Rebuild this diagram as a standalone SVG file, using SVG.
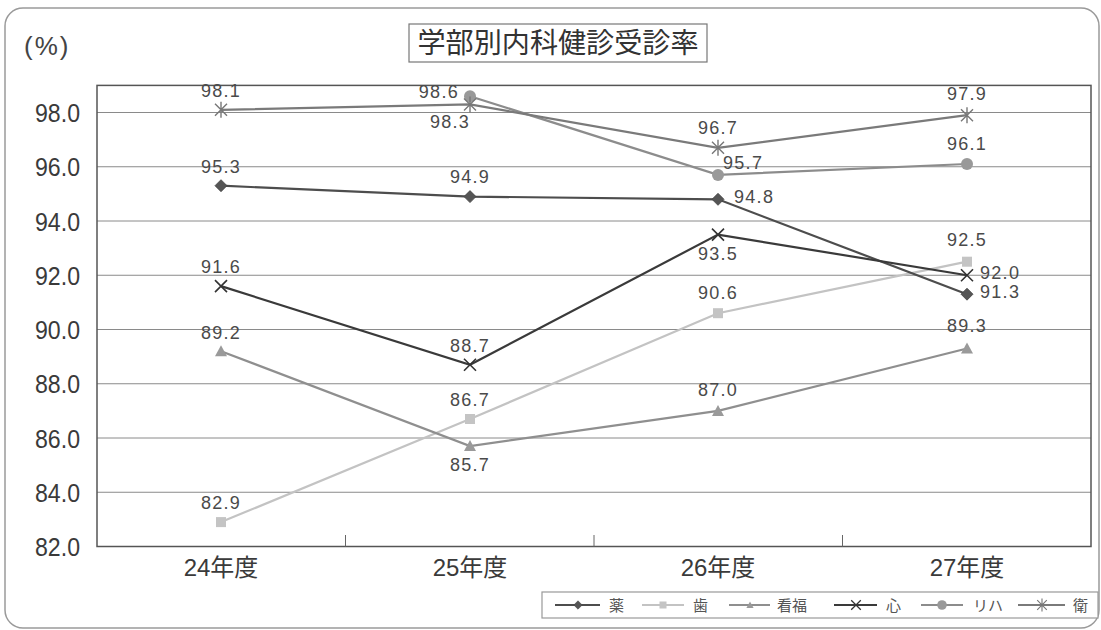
<svg xmlns="http://www.w3.org/2000/svg" xmlns:xlink="http://www.w3.org/1999/xlink" width="1101" height="630" viewBox="0 0 1101 630">
<style>
.frame{fill:#fff;stroke:#9a9a9a;stroke-width:1.5}
.grid{stroke:#8a8a8a;stroke-width:1;fill:none}
.axis{fill:none;stroke:#555;stroke-width:1.5}
.tick{stroke:#666;stroke-width:1}
.ylab{font-family:"Liberation Sans",Arial,sans-serif;font-size:26px;fill:#3a3a3a;text-anchor:end}
.xlab{font-family:"Liberation Sans","Noto Sans CJK JP",sans-serif;font-size:24px;fill:#3a3a3a;text-anchor:middle}
.dl{font-family:"Liberation Sans",Arial,sans-serif;font-size:18px;fill:#4a4a4a;letter-spacing:1.3px;text-anchor:middle}
.st{text-anchor:start}
.en{text-anchor:end}
.title{font-family:"Noto Sans CJK JP",sans-serif;font-size:28px;fill:#333;text-anchor:middle}
.unit{font-family:"Liberation Sans",Arial,sans-serif;font-size:26px;fill:#444;letter-spacing:2px}
.leg{font-family:"Noto Sans CJK JP",sans-serif;font-size:15px;fill:#555}
.s-yaku{stroke:#4d4d4d;stroke-width:2.2;fill:none}
.s-shi{stroke:#c3c3c3;stroke-width:2.2;fill:none}
.s-kan{stroke:#8f8f8f;stroke-width:2.2;fill:none}
.s-shin{stroke:#3a3a3a;stroke-width:2.2;fill:none}
.s-riha{stroke:#8c8c8c;stroke-width:2.2;fill:none}
.s-ei{stroke:#7a7a7a;stroke-width:2.2;fill:none}
</style>
<defs>
<path id="m-diamond" d="M0,-6 L6,0 L0,6 L-6,0Z" fill="#555" stroke="#444" stroke-width="0.8"/>
<rect id="m-square" x="-5" y="-5" width="10" height="10" fill="#c4c4c4"/>
<path id="m-tri" d="M0,-6 L6,5 L-6,5Z" fill="#9a9a9a"/>
<path id="m-x" d="M-6,-6 L6,6 M-6,6 L6,-6" stroke="#333" stroke-width="1.6" fill="none"/>
<circle id="m-circle" r="6" fill="#999"/>
<path id="m-star" d="M-6,-6 L6,6 M-6,6 L6,-6 M0,-8 L0,8" stroke="#777" stroke-width="1.4" fill="none"/>
</defs>

<rect class="frame" x="5" y="8" width="1094" height="620" rx="18"/>

<g id="title">
<rect x="409" y="24" width="298" height="38" fill="#fff" stroke="#777" stroke-width="1.2"/>
<text class="title" x="558" y="53" textLength="281" lengthAdjust="spacingAndGlyphs">学部別内科健診受診率</text>
</g>
<text class="unit" x="24" y="55">(%)</text>

<g id="grid">
<line class="grid" x1="97" y1="112.5" x2="1091" y2="112.5"/>
<line class="grid" x1="97" y1="166.75" x2="1091" y2="166.75"/>
<line class="grid" x1="97" y1="221" x2="1091" y2="221"/>
<line class="grid" x1="97" y1="275.25" x2="1091" y2="275.25"/>
<line class="grid" x1="97" y1="329.5" x2="1091" y2="329.5"/>
<line class="grid" x1="97" y1="383.75" x2="1091" y2="383.75"/>
<line class="grid" x1="97" y1="438" x2="1091" y2="438"/>
<line class="grid" x1="97" y1="492.25" x2="1091" y2="492.25"/>
<rect class="axis" x="97" y="85.4" width="994" height="461.1"/>
<line class="tick" x1="345.5" y1="546.5" x2="345.5" y2="535"/>
<line class="tick" x1="594" y1="546.5" x2="594" y2="535"/>
<line class="tick" x1="842.5" y1="546.5" x2="842.5" y2="535"/>
</g>

<g id="y-labels">
<text class="ylab" x="80" y="122" textLength="45" lengthAdjust="spacingAndGlyphs">98.0</text>
<text class="ylab" x="80" y="176.25" textLength="45" lengthAdjust="spacingAndGlyphs">96.0</text>
<text class="ylab" x="80" y="230.5" textLength="45" lengthAdjust="spacingAndGlyphs">94.0</text>
<text class="ylab" x="80" y="284.75" textLength="45" lengthAdjust="spacingAndGlyphs">92.0</text>
<text class="ylab" x="80" y="339" textLength="45" lengthAdjust="spacingAndGlyphs">90.0</text>
<text class="ylab" x="80" y="393.25" textLength="45" lengthAdjust="spacingAndGlyphs">88.0</text>
<text class="ylab" x="80" y="447.5" textLength="45" lengthAdjust="spacingAndGlyphs">86.0</text>
<text class="ylab" x="80" y="501.75" textLength="45" lengthAdjust="spacingAndGlyphs">84.0</text>
<text class="ylab" x="80" y="556" textLength="45" lengthAdjust="spacingAndGlyphs">82.0</text>
</g>

<g id="x-labels">
<text class="xlab" x="221" y="576">24年度</text>
<text class="xlab" x="470" y="576">25年度</text>
<text class="xlab" x="718" y="576">26年度</text>
<text class="xlab" x="967" y="576">27年度</text>
</g>

<g id="series-shi">
<polyline class="s-shi" points="221,522.1 470,419 718,313.2 967,261.7"/>
<use xlink:href="#m-square" x="221" y="522.1"/><use xlink:href="#m-square" x="470" y="419"/><use xlink:href="#m-square" x="718" y="313.2"/><use xlink:href="#m-square" x="967" y="261.7"/>
</g>
<g id="series-kan">
<polyline class="s-kan" points="221,351.2 470,446.1 718,410.9 967,348.5"/>
<use xlink:href="#m-tri" x="221" y="351.2"/><use xlink:href="#m-tri" x="470" y="446.1"/><use xlink:href="#m-tri" x="718" y="410.9"/><use xlink:href="#m-tri" x="967" y="348.5"/>
</g>
<g id="series-riha">
<polyline class="s-riha" points="470,96.2 718,174.9 967,164"/>
<use xlink:href="#m-circle" x="470" y="96.2"/><use xlink:href="#m-circle" x="718" y="174.9"/><use xlink:href="#m-circle" x="967" y="164"/>
</g>
<g id="series-ei">
<polyline class="s-ei" points="221,109.8 470,104.4 718,147.8 967,115.2"/>
<use xlink:href="#m-star" x="221" y="109.8"/><use xlink:href="#m-star" x="470" y="104.4"/><use xlink:href="#m-star" x="718" y="147.8"/><use xlink:href="#m-star" x="967" y="115.2"/>
</g>
<g id="series-yaku">
<polyline class="s-yaku" points="221,185.7 470,196.6 718,199.3 967,294.2"/>
<use xlink:href="#m-diamond" x="221" y="185.7"/><use xlink:href="#m-diamond" x="470" y="196.6"/><use xlink:href="#m-diamond" x="718" y="199.3"/><use xlink:href="#m-diamond" x="967" y="294.2"/>
</g>
<g id="series-shin">
<polyline class="s-shin" points="221,286.1 470,364.8 718,234.6 967,275.25"/>
<use xlink:href="#m-x" x="221" y="286.1"/><use xlink:href="#m-x" x="470" y="364.8"/><use xlink:href="#m-x" x="718" y="234.6"/><use xlink:href="#m-x" x="967" y="275.25"/>
</g>

<g id="data-labels">
<text class="dl" x="221" y="97">98.1</text>
<text class="dl" x="450" y="128">98.3</text>
<text class="dl" x="718" y="134">96.7</text>
<text class="dl" x="967" y="100">97.9</text>
<text class="dl en" x="459" y="98">98.6</text>
<text class="dl st" x="723" y="169">95.7</text>
<text class="dl" x="967" y="150">96.1</text>
<text class="dl" x="221" y="173">95.3</text>
<text class="dl" x="470" y="183">94.9</text>
<text class="dl st" x="734" y="203">94.8</text>
<text class="dl st" x="980" y="298">91.3</text>
<text class="dl" x="221" y="273">91.6</text>
<text class="dl" x="470" y="352">88.7</text>
<text class="dl" x="718" y="260">93.5</text>
<text class="dl st" x="980" y="279">92.0</text>
<text class="dl" x="221" y="509">82.9</text>
<text class="dl" x="470" y="406">86.7</text>
<text class="dl" x="718" y="299">90.6</text>
<text class="dl" x="967" y="246">92.5</text>
<text class="dl" x="221" y="339">89.2</text>
<text class="dl" x="470" y="471">85.7</text>
<text class="dl" x="718" y="396">87.0</text>
<text class="dl" x="967" y="332">89.3</text>
</g>

<g id="legend">
<rect x="542" y="592" width="556" height="26" fill="#fff" stroke="#999" stroke-width="1.2"/>
<line class="s-yaku" x1="555" y1="605" x2="600" y2="605"/>
<use xlink:href="#m-diamond" transform="translate(578,605) scale(0.7)"/>
<text class="leg" x="609" y="611">薬</text>
<line class="s-shi" x1="642" y1="605" x2="684" y2="605"/>
<use xlink:href="#m-square" transform="translate(663,605) scale(0.7)"/>
<text class="leg" x="693" y="611">歯</text>
<line class="s-kan" x1="729" y1="605" x2="770" y2="605"/>
<use xlink:href="#m-tri" transform="translate(750,605) scale(0.6)"/>
<text class="leg" x="777" y="611">看福</text>
<line class="s-shin" x1="834" y1="605" x2="877" y2="605"/>
<use xlink:href="#m-x" transform="translate(856,605) scale(0.8)"/>
<text class="leg" x="886" y="611">心</text>
<line class="s-riha" x1="921" y1="605" x2="963" y2="605"/>
<use xlink:href="#m-circle" transform="translate(942,605) scale(0.8)"/>
<text class="leg" x="973" y="611">リハ</text>
<line class="s-ei" x1="1018" y1="605" x2="1065" y2="605"/>
<use xlink:href="#m-star" transform="translate(1042,605) scale(0.8)"/>
<text class="leg" x="1073" y="611">衛</text>
</g>
</svg>
